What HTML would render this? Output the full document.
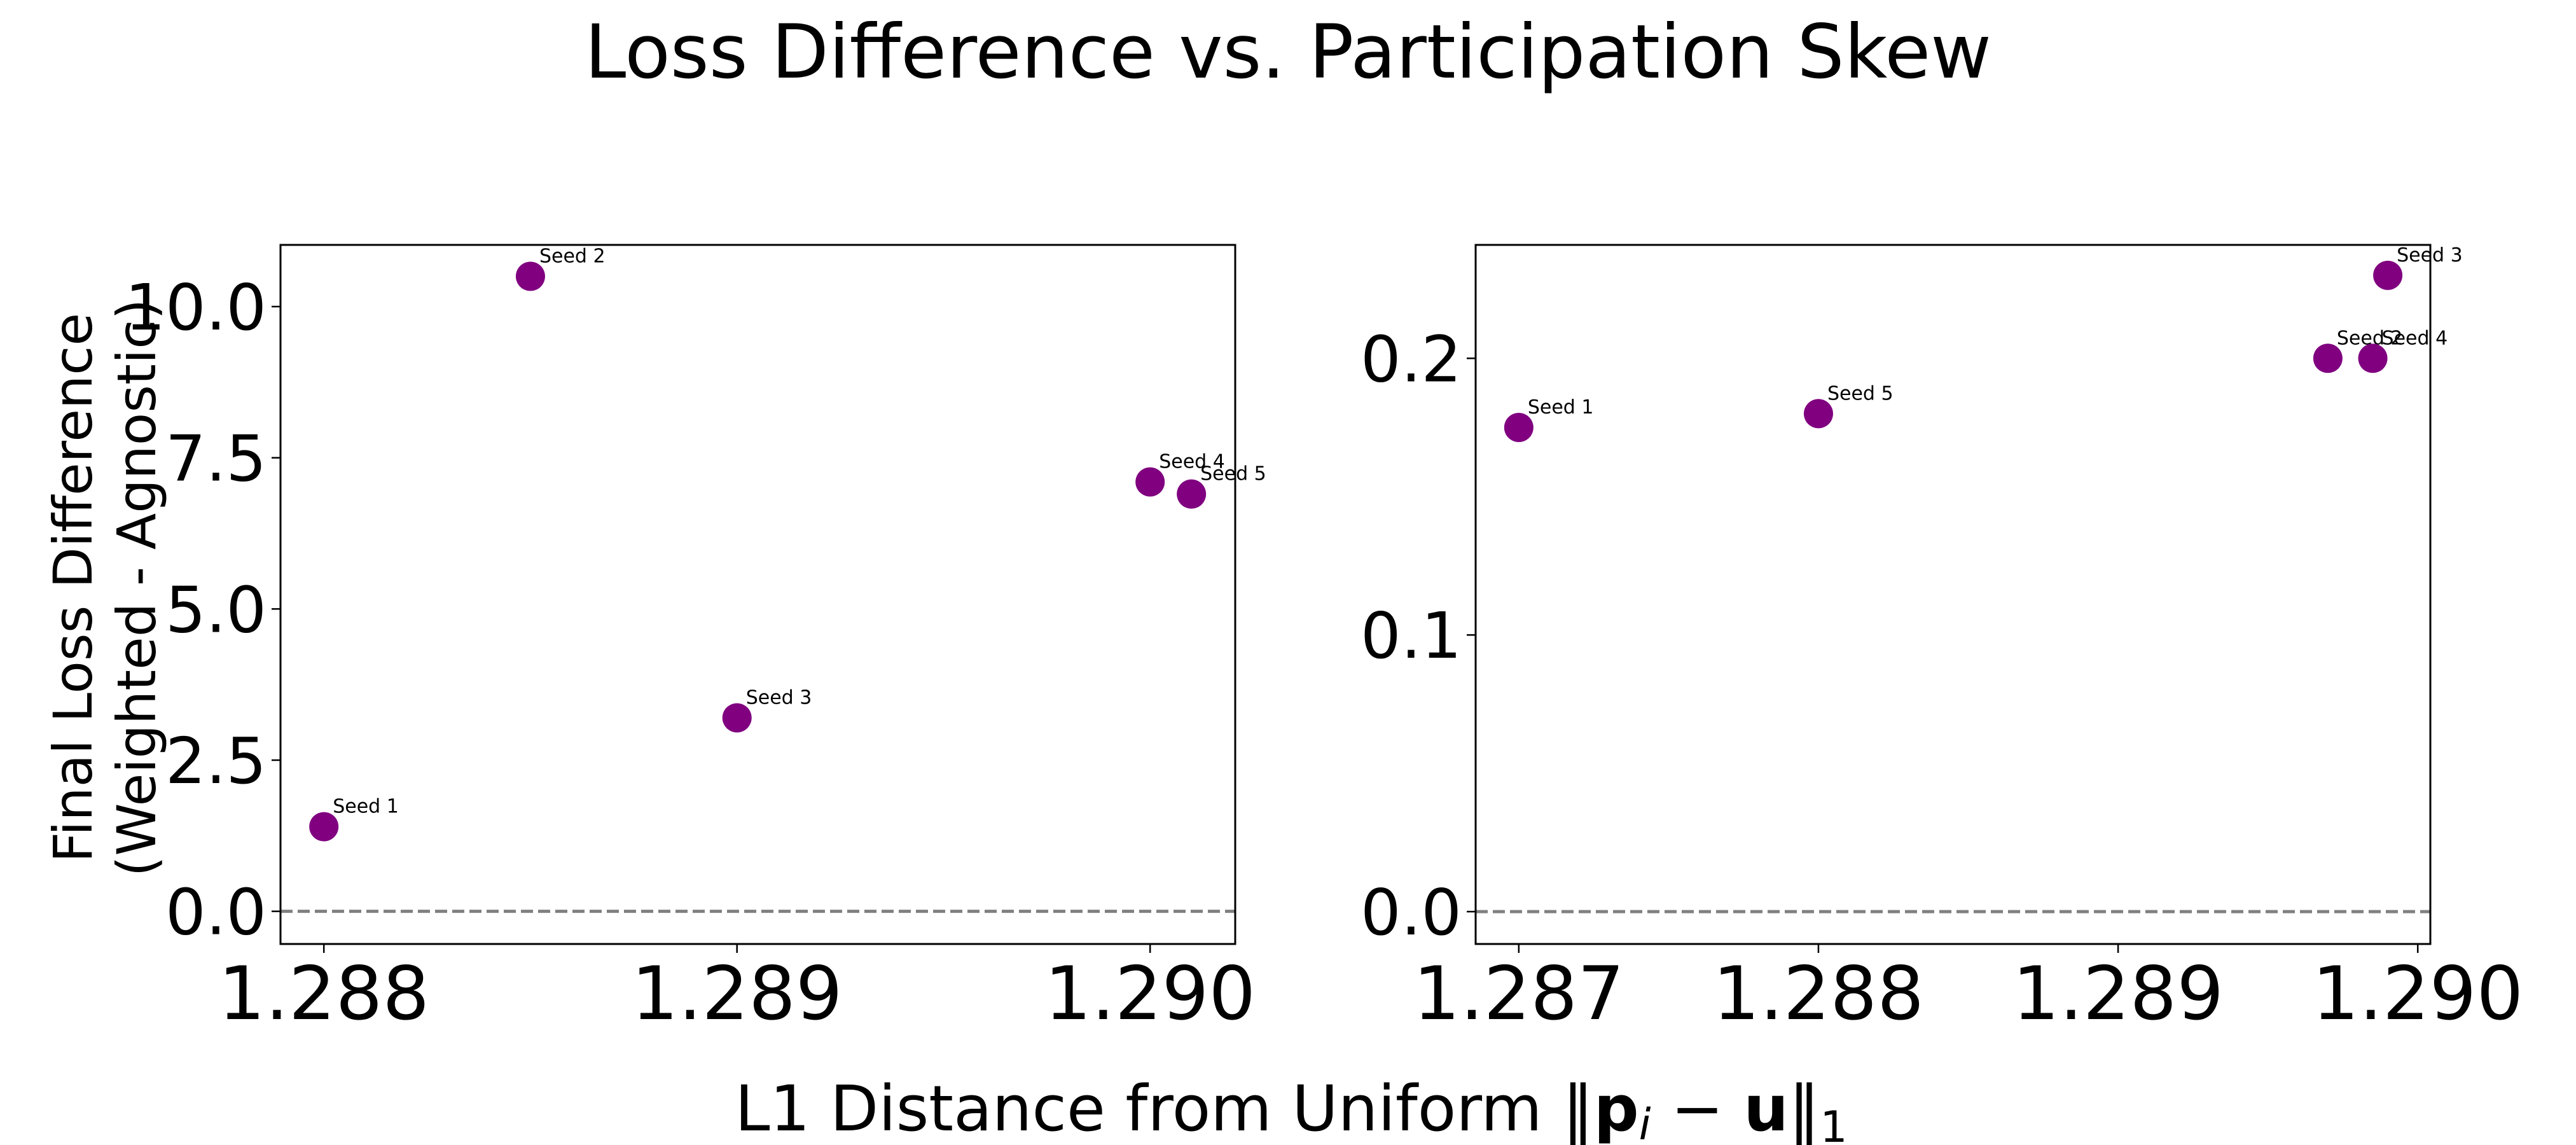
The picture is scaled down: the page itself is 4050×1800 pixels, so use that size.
<!DOCTYPE html>
<html><head><meta charset="utf-8"><style>html,body{margin:0;padding:0;background:#fff;}svg{display:block;}text{font-family:"DejaVu Sans","Liberation Sans",sans-serif;}</style></head>
<body>
<svg id="chart" width="4050" height="1800" viewBox="0 0 4050 1800" xmlns="http://www.w3.org/2000/svg">
<rect width="4050" height="1800" fill="#fff"/>
<text x="2025" y="122" font-size="117" text-anchor="middle">Loss Difference vs. Participation Skew</text>
<text x="2030" y="1777" font-size="99" text-anchor="middle">L1 Distance from Uniform ‖<tspan font-weight="bold">p</tspan><tspan font-style="italic" font-size="68" dy="14">i</tspan><tspan dy="-14"> − </tspan><tspan font-weight="bold">u</tspan>‖<tspan font-size="68" dy="18">1</tspan></text>
<g transform="translate(156,924) rotate(-90)">
<text x="0" y="0" font-size="84" text-anchor="middle"><tspan x="0" y="-12">Final Loss Difference</tspan><tspan x="0" y="88">(Weighted - Agnostic)</tspan></text>
</g>
<g id="p1"></g>
<g id="p2"></g>
</svg>
<script>
const leftSeeds = ["Seed 1","Seed 2","Seed 3","Seed 4","Seed 5"];
const leftX = [1.288, 1.2885, 1.289, 1.290, 1.2901];
const leftY = [1.4, 10.5, 3.2, 7.1, 6.9];
const leftXTicks = [1.288, 1.289, 1.290];
const leftYTicks = [0.0, 2.5, 5.0, 7.5, 10.0];
const leftXTickLabels = ["1.288","1.289","1.290"];
const leftYTickLabels = ["0.0","2.5","5.0","7.5","10.0"];

const rightSeeds = ["Seed 1","Seed 5","Seed 2","Seed 4","Seed 3"];
const rightX = [1.287, 1.288, 1.2897, 1.28985, 1.2899];
const rightY = [0.175, 0.18, 0.2, 0.2, 0.23];
const rightXTicks = [1.287, 1.288, 1.289, 1.290];
const rightYTicks = [0.0, 0.1, 0.2];
const rightXTickLabels = ["1.287","1.288","1.289","1.290"];
const rightYTickLabels = ["0.0","0.1","0.2"];

const NS = "http://www.w3.org/2000/svg";
function mk(parent, tag, attrs){const e=document.createElementNS(NS,tag);for(const k in attrs)e.setAttribute(k,attrs[k]);parent.appendChild(e);return e;}

function panel(gid, box, xd, yd, names, xs, ys, xt, xtl, yt, ytl){
  const g=document.getElementById(gid);
  const sx=v=>box.l+(v-xd[0])/(xd[1]-xd[0])*(box.r-box.l);
  const sy=v=>box.b-(v-yd[0])/(yd[1]-yd[0])*(box.b-box.t);
  const zl=mk(g,'line',{x1:box.l,x2:box.r,y1:sy(0),y2:sy(0),stroke:'#808080','stroke-width':5,'stroke-dasharray':'19,8'});
  
  
  xt.forEach((v,i)=>{
    const x=sx(v);
    const t=mk(g,'line',{x1:x,x2:x,y1:box.b,y2:box.b+14,stroke:'#000','stroke-width':2.5});
    
    
    const tx=mk(g,'text',{x:x,y:1602,'font-size':116,'text-anchor':'middle'});
    
    
    tx.textContent=xtl[i];
  });
  yt.forEach((v,i)=>{
    const y=sy(v);
    const t=mk(g,'line',{x1:box.l-14,x2:box.l,y1:y,y2:y,stroke:'#000','stroke-width':2.5});
    
    
    const tx=mk(g,'text',{x:box.l-22,y:y+36,'font-size':100,'text-anchor':'end'});
    
    
    tx.textContent=ytl[i];
  });
  xs.forEach((v,i)=>{
    const cx=sx(v), cy=sy(ys[i]);
    const c=mk(g,'circle',{cx:cx,cy:cy,r:23,fill:'#800080'});
    
    
    const a=mk(g,'text',{x:cx+14,y:cy-22,'font-size':30});
    
    
    a.textContent=names[i];
  });
  const fr=mk(g,'rect',{x:box.l,y:box.t,width:box.r-box.l,height:box.b-box.t,fill:'none',stroke:'#000','stroke-width':3});
  
  
}
panel('p1',{l:441,r:1942,t:385,b:1484},[1.287895,1.290206],[-0.54,11.02],leftSeeds,leftX,leftY,leftXTicks,leftXTickLabels,leftYTicks,leftYTickLabels);
panel('p2',{l:2320,r:3821,t:385,b:1484},[1.286856,1.290042],[-0.0117,0.241],rightSeeds,rightX,rightY,rightXTicks,rightXTickLabels,rightYTicks,rightYTickLabels);
</script>
</body></html>
